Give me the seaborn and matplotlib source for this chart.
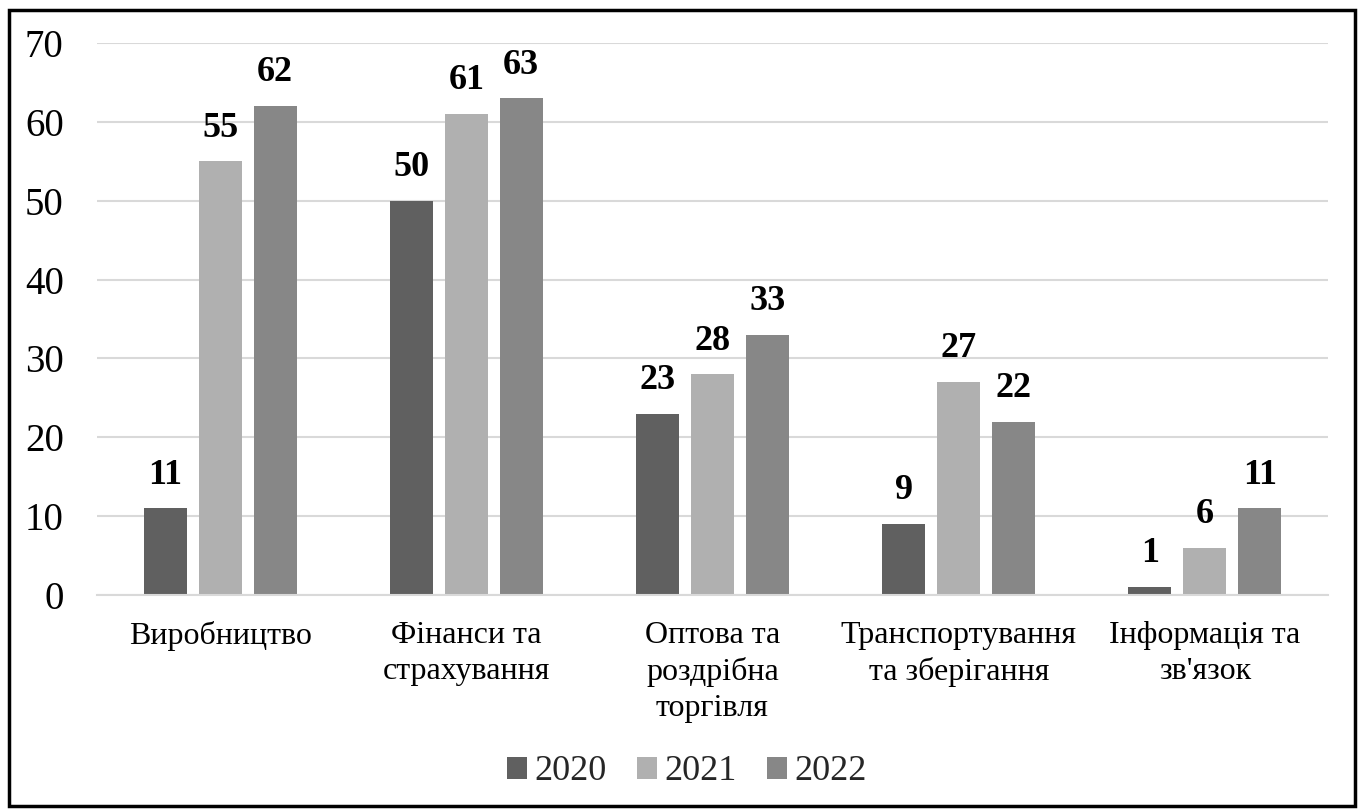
import matplotlib
matplotlib.use("Agg")
import matplotlib.pyplot as plt
import seaborn as sns
import pandas as pd
from matplotlib.patches import Rectangle

categories = ["Виробництво", "Фінанси та\nстрахування", "Оптова та\nроздрібна\nторгівля",
              "Транспортування\nта зберігання", "Інформація та\nзв'язок"]
years = ["2020", "2021", "2022"]
values_2020 = [11, 50, 23, 9, 1]
values_2021 = [55, 61, 28, 27, 6]
values_2022 = [62, 63, 33, 22, 11]
colors = ["#606060", "#B0B0B0", "#878787"]
yticks = [0, 10, 20, 30, 40, 50, 60, 70]

rows = []
for y, vals in zip(years, [values_2020, values_2021, values_2022]):
    for c, v in zip(categories, vals):
        rows.append({"cat": c, "year": y, "val": v})
df = pd.DataFrame(rows)

sns.set_theme(style="white")
plt.rcParams["font.family"] = ["Liberation Serif", "DejaVu Serif"]

fig = plt.figure(figsize=(13.62, 8.10), dpi=100)
ax = fig.add_axes([97/1362, 1-595/810, (1328-97)/1362, (595-43)/810])

sns.barplot(data=df, x="cat", y="val", hue="year", order=categories, hue_order=years,
            palette=colors, width=0.67, gap=0.22, saturation=1, ax=ax, errorbar=None,
            edgecolor="none")

for cont in ax.containers:
    ax.bar_label(cont, padding=12, fontsize=26, fontweight="bold", color="black")

ax.set_ylim(0, 70)
ax.set_xlim(-0.5, len(categories) - 0.5)
ax.set_yticks(yticks)
ax.set_yticklabels([str(t) for t in yticks])
ax.yaxis.grid(True, color="#D9D9D9", linewidth=1.5)
ax.set_axisbelow(True)
for s in ["left", "right", "top"]:
    ax.spines[s].set_visible(False)
ax.spines["bottom"].set_color("#D9D9D9")
ax.spines["bottom"].set_linewidth(1.5)
ax.tick_params(axis="y", length=0, pad=24, labelsize=28, labelcolor="black")
ax.tick_params(axis="x", length=0, pad=19, labelsize=23, labelcolor="black")
for lbl in ax.get_xticklabels():
    lbl.set_linespacing(1.3)
ax.set_xlabel("")
ax.set_ylabel("")

handles, labels = ax.get_legend_handles_labels()
ax.legend(handles, labels, loc="center", bbox_to_anchor=(687/1362, 1-772/810),
          bbox_transform=fig.transFigure, ncol=3, frameon=False, fontsize=26,
          handlelength=0.55, handleheight=0.55, handletextpad=0.2, columnspacing=0.85)

fig.patches.append(Rectangle((8.5/1362, 4/810), 1346/1362, 796/810, transform=fig.transFigure,
                             fill=False, edgecolor="black", linewidth=2.5))

fig.savefig("out.png", dpi=100)
